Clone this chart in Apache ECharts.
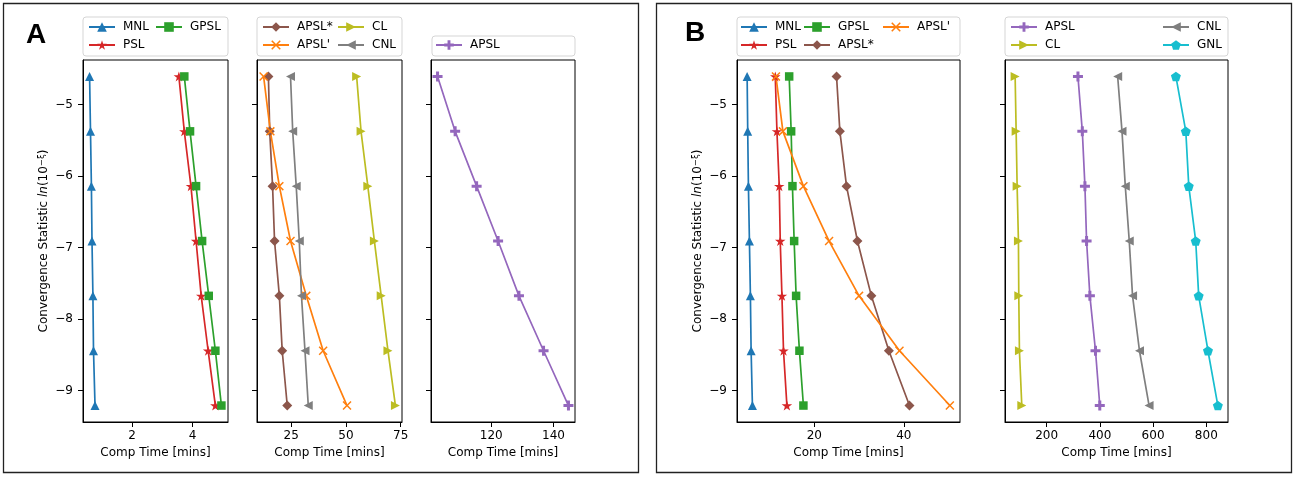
<!DOCTYPE html>
<html><head><meta charset="utf-8">
<script src="https://cdn.jsdelivr.net/npm/echarts@6/dist/echarts.min.js"></script>
<style>html,body{margin:0;padding:0;background:#fff}#c{width:1299px;height:477px}</style>
</head><body><div id="c"></div>
<script>
// ---- data ----
const yVals = [-4.605, -5.373, -6.140, -6.908, -7.675, -8.443, -9.210]; // ln(10^-xi), xi = 2..4
const yTicks = [-9, -8, -7, -6, -5];
// Panel A
const a_MNL = [0.59, 0.62, 0.65, 0.67, 0.70, 0.72, 0.77];
const a_PSL = [3.55, 3.73, 3.95, 4.12, 4.29, 4.52, 4.76];
const a_GPSL = [3.73, 3.92, 4.12, 4.32, 4.54, 4.76, 4.96];
const a_APSLstar = [14.6, 15.2, 16.5, 17.4, 19.6, 20.9, 23.2];
const a_APSLprime = [12.4, 15.5, 19.6, 24.7, 31.9, 39.6, 50.5];
const a_CL = [54.9, 56.9, 60.0, 63.0, 66.1, 69.2, 72.6];
const a_CNL = [24.7, 25.7, 27.3, 28.7, 29.7, 31.3, 32.8];
const a_APSL = [102.75, 108.4, 115.3, 122.2, 128.9, 136.8, 144.8];
// Panel B
const b_MNL = [4.98, 5.11, 5.27, 5.49, 5.71, 5.87, 6.16];
const b_PSL = [11.27, 11.64, 12.16, 12.38, 12.76, 13.11, 13.87];
const b_GPSL = [14.38, 14.82, 15.11, 15.49, 15.93, 16.67, 17.56];
const b_APSLstar = [24.97, 25.71, 27.2, 29.64, 32.75, 36.67, 41.27];
const b_APSLprime = [11.42, 12.98, 17.56, 23.3, 30.0, 39.04, 50.3];
const b_CL = [81.8, 85.6, 89.3, 94.2, 95.5, 97.9, 106.8];
const b_APSL = [317.8, 334.2, 344, 350.2, 362.6, 383.7, 399.8];
const b_CNL = [467, 483.3, 495.6, 510.5, 522.9, 548.9, 585];
const b_GNL = [685.7, 723, 734.1, 760.2, 771.4, 806.2, 843.4];
// tick labels
const tA1 = [2, 4];
const tA2 = [25, 50, 75];
const tA3 = [120, 140];
const tB1 = [20, 40];
const tB2 = [200, 400, 600, 800];
const xName = 'Comp Time [mins]';

// ---- styles ----
const FONT = 'DejaVu Sans';
const C = {MNL:'#1f77b4', PSL:'#d62728', GPSL:'#2ca02c', APSLs:'#8c564b', APSLp:'#ff7f0e',
           CL:'#bcbd22', CNL:'#7f7f7f', APSL:'#9467bd', GNL:'#17becf'};
function poly(pts){return 'path://'+pts.map((p,i)=>(i?'L':'M')+(p[0]*10+20).toFixed(2)+','+(p[1]*10+20).toFixed(2)).join(' ')+' Z';}
function starPts(){const p=[];for(let k=0;k<10;k++){const a=(-90+36*k)*Math.PI/180,r=k%2?0.382:1;p.push([r*Math.cos(a),r*Math.sin(a)]);}return p;}
function pentPts(){const p=[];for(let k=0;k<5;k++){const a=(-90+72*k)*Math.PI/180;p.push([Math.cos(a),Math.sin(a)]);}return p;}
function plusPts(w,rot){const b=[[-w,-1],[w,-1],[w,-w],[1,-w],[1,w],[w,w],[w,1],[-w,1],[-w,w],[-1,w],[-1,-w],[-w,-w]];
  const a=rot*Math.PI/180;return b.map(([x,y])=>[x*Math.cos(a)-y*Math.sin(a),x*Math.sin(a)+y*Math.cos(a)]);}
const SYM = {
  MNL:{symbol:'triangle',symbolSize:9},
  PSL:{symbol:poly(starPts()),symbolSize:10.5},
  GPSL:{symbol:'rect',symbolSize:8.5},
  APSLs:{symbol:'diamond',symbolSize:10},
  APSLp:{symbol:poly(plusPts(0.13,45)),symbolSize:9},
  CL:{symbol:'triangle',symbolSize:9,symbolRotate:-90},
  CNL:{symbol:'triangle',symbolSize:9,symbolRotate:90},
  APSL:{symbol:poly(plusPts(0.3,0)),symbolSize:10},
  GNL:{symbol:poly(pentPts()),symbolSize:10}
};

const yMin = Math.min(...yVals), yMax = Math.max(...yVals), yPad = (yMax - yMin) * 0.05;
function lim(arrs){const all=[].concat(...arrs);const mn=Math.min(...all),mx=Math.max(...all),p=(mx-mn)*0.05;return [mn-p,mx+p];}

const panels = [
  {left:83, width:145, ticks:tA1, ylab:true, s:[['MNL',a_MNL,'MNL'],['PSL',a_PSL,'PSL'],['GPSL',a_GPSL,'GPSL']]},
  {left:257, width:145, ticks:tA2, ylab:false, s:[['APSL*',a_APSLstar,'APSLs'],['APSL\'',a_APSLprime,'APSLp'],['CL',a_CL,'CL'],['CNL',a_CNL,'CNL']]},
  {left:431, width:144, ticks:tA3, ylab:false, s:[['APSL',a_APSL,'APSL']]},
  {left:737, width:223, ticks:tB1, ylab:true, s:[['MNL',b_MNL,'MNL'],['PSL',b_PSL,'PSL'],['GPSL',b_GPSL,'GPSL'],['APSL*',b_APSLstar,'APSLs'],['APSL\'',b_APSLprime,'APSLp']]},
  {left:1005, width:223, ticks:tB2, ylab:false, s:[['APSL',b_APSL,'APSL'],['CL',b_CL,'CL'],['CNL',b_CNL,'CNL'],['GNL',b_GNL,'GNL']]}
];

const grid=[],xAxis=[],yAxis=[],series=[];
const txt = {color:'#000', fontFamily:FONT, fontSize:12};
panels.forEach((P,i)=>{
  grid.push({left:P.left, width:P.width, top:60, height:362, show:true, borderColor:'#000', borderWidth:1, containLabel:false});
  const [mn,mx]=lim(P.s.map(s=>s[1]));
  xAxis.push({type:'value', gridIndex:i, min:mn, max:mx, splitLine:{show:false},
    axisLine:{show:true,lineStyle:{color:'#000',width:1}},
    axisTick:{show:true,length:5,lineStyle:{color:'#000'},customValues:P.ticks},
    axisLabel:Object.assign({show:true,margin:8,customValues:P.ticks,formatter:v=>String(v)},txt),
    name:xName, nameLocation:'middle', nameGap:24, nameTextStyle:txt});
  const ya={type:'value', gridIndex:i, min:yMin-yPad, max:yMax+yPad, splitLine:{show:false},
    axisLine:{show:true,lineStyle:{color:'#000',width:1}},
    axisTick:{show:true,length:5,lineStyle:{color:'#000'},customValues:yTicks},
    axisLabel:Object.assign({show:P.ylab,margin:10,customValues:yTicks,formatter:v=>String(v).replace('-','\u2212')},txt)};
  if(P.ylab){
    ya.name='{a|Convergence Statistic }{i|ln}{a|(10}{s|\u2212\u03be}{a|)}';
    ya.nameLocation='middle'; ya.nameGap=32; ya.nameRotate=90;
    ya.nameTextStyle={color:'#000',fontFamily:FONT,fontSize:12,
      rich:{a:{fontSize:12,fontFamily:FONT,color:'#000'},i:{fontSize:12,fontFamily:FONT,fontStyle:'italic',color:'#000'},
            s:{fontSize:8.5,fontFamily:FONT,color:'#000',verticalAlign:'top',lineHeight:14}}};
  }
  yAxis.push(ya);
  P.s.forEach(([name,xs,key])=>{
    series.push(Object.assign({type:'line', name, xAxisIndex:i, yAxisIndex:i,
      data:xs.map((x,k)=>[x,yVals[k]]), showSymbol:true, symbolKeepAspect:true,
      lineStyle:{color:C[key],width:1.7}, itemStyle:{color:C[key],borderWidth:0},
      emphasis:{disabled:true}, animation:false, z:2}, SYM[key]));
  });
});

function lg(left, top, names){
  return {left, top, orient:'vertical', data:names, padding:0, itemWidth:26, itemHeight:12, itemGap:4,
    selectedMode:false, textStyle:{color:'#000',fontFamily:FONT,fontSize:12,lineHeight:14,padding:[0,0,0,3]}};
}
const legend=[
  lg(88,20,['MNL','PSL']), lg(155,20,['GPSL']),
  lg(262,20,['APSL*','APSL\'']), lg(337,20,['CL','CNL']),
  lg(435,38,['APSL']),
  lg(740,20,['MNL','PSL']), lg(803,20,['GPSL','APSL*']), lg(882,20,['APSL\'']),
  lg(1010,20,['APSL','CL']), lg(1162,20,['CNL','GNL'])
];

function box(x,y,w,h){return {type:'rect',shape:{x,y,width:w,height:h,r:3},style:{fill:'rgba(255,255,255,0.8)',stroke:'#d5d5d5',lineWidth:1},z:0};}
const graphic=[
  {type:'rect',shape:{x:3.5,y:3.5,width:635,height:469},style:{fill:'none',stroke:'#222',lineWidth:1.3},z:0},
  {type:'rect',shape:{x:656.5,y:3.5,width:635,height:469},style:{fill:'none',stroke:'#222',lineWidth:1.3},z:0},
  {type:'text',left:26,top:21,style:{text:'A',font:'bold 28px "Liberation Sans", Arial, sans-serif',fill:'#000'},z:5},
  {type:'text',left:685,top:19,style:{text:'B',font:'bold 28px "Liberation Sans", Arial, sans-serif',fill:'#000'},z:5},
  box(83,17,145,39), box(257,17,145,39), box(432,36,143,20), box(737,17,223,39), box(1005,17,223,39)
];

const chart = echarts.init(document.getElementById('c'), null, {renderer:'canvas'});
chart.setOption({animation:false, backgroundColor:'#fff', grid, xAxis, yAxis, series, legend, graphic});
</script></body></html>
